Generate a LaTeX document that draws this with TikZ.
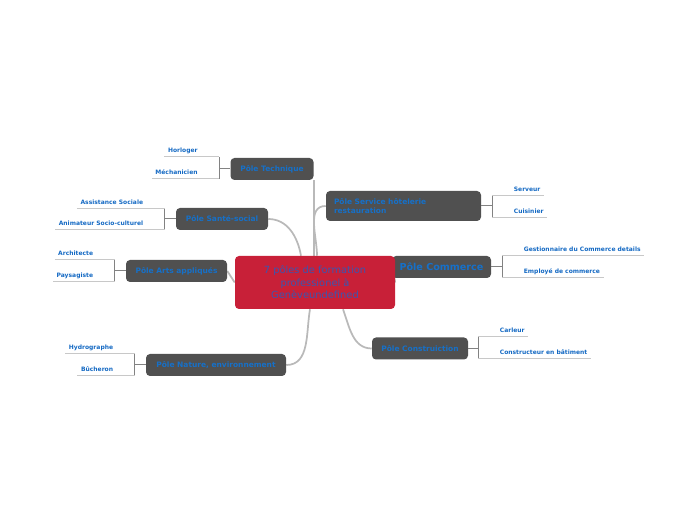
\documentclass[tikz,border=0pt]{standalone}
\usepackage{fontspec}
\setmainfont{DejaVu Sans}
\usepackage{tikz}
\usetikzlibrary{calc,backgrounds}

\definecolor{polegray}{RGB}{80,80,80}
\definecolor{poleblue}{RGB}{22,112,200}
\definecolor{leafblue}{RGB}{20,105,195}
\definecolor{centrered}{RGB}{200,32,56}
\definecolor{centreblue}{RGB}{58,86,176}
\definecolor{linkgray}{RGB}{185,185,185}
\definecolor{forkgray}{RGB}{130,130,130}
\definecolor{twiggray}{RGB}{200,200,200}

\begin{document}
\begin{tikzpicture}[x=0.75pt,y=-0.75pt,
  pole/.style={fill=polegray,rounded corners=3pt,text=poleblue,font=\fontsize{5.6}{6.75}\selectfont\bfseries,minimum width=#1*0.75pt,minimum height=16.5pt,inner sep=0pt},
  centre/.style={fill=centrered,rounded corners=3pt,text=centreblue,font=\fontsize{7.4}{9.4}\selectfont,align=center,minimum width=120pt,minimum height=39.75pt,inner sep=0pt},
  leaf/.style={text=leafblue,font=\fontsize{4.5}{5}\selectfont\bfseries,text height=3.4pt,text depth=1pt,inner xsep=2.5pt,inner ysep=2.3pt},
  link/.style={draw=linkgray,line width=1.3pt},
  fork/.style={draw=forkgray,line width=0.75pt},
  twig/.style={draw=twiggray,line width=0.75pt}]
\useasboundingbox (0,0) rectangle (697,520);

% poles
\node[pole=83] (tech) at (272,169) {Pôle Technique};
\node[pole=92] (sante) at (222,219) {Pôle Santé-social};
\node[pole=101] (arts) at (176.5,271) {Pôle Arts appliqués};
\node[pole=140] (nature) at (216,365) {Pôle Nature, environnement};
\node[pole=96] (constr) at (420,348.5) {Pôle Construiction};
\node[pole=99,font=\fontsize{7.2}{8}\selectfont\bfseries] (comm) at (441.5,267) {Pôle Commerce};
\node[pole=155,minimum height=22.5pt,text width=139*0.75pt,align=left] (serv) at (403.5,206) {Pôle Service hôtelerie\\restauration};
\node[centre] (centre) at (315,282.5) {7 pôles de formation\\professionel à\\Genèveundefined};

% links to the centre
\begin{scope}[on background layer]
\draw[link] (centre.north -| tech.south east) -- (tech.south east);
\draw[link] ($(centre.north)+(-14,0)$) to[out=100,in=0] (sante.east);
\draw[link] ($(centre.north)+(2,0)$) to[out=90,in=180] (serv.west);
\draw[link] (centre.west) -- (arts.east);
\draw[link] ($(centre.south)+(-5,0)$) to[out=-100,in=0] (nature.east);
\draw[link] ($(centre.south)+(28,0)$) to[out=-70,in=180] (constr.west);
\draw[link] (centre.east) -- (comm.west);
\end{scope}

% Pole Technique
\draw[fork] (tech.west) -- ++(-11,0) coordinate (tfork);
\node[leaf,anchor=south east] (horl) at ($(tfork)+(-18,-12)$) {Horloger};
\node[leaf,anchor=south east] (mech) at ($(tfork)+(-18,10)$) {Méchanicien};
\draw[fork] (horl.south -| tfork) -- (mech.south -| tfork);
\draw[twig] (horl.south west) -- (horl.south -| tfork);
\draw[twig] (mech.south west) -- (mech.south -| tfork);

% Pole Sante-social
\draw[fork] (sante.west) -- ++(-11,0) coordinate (sfork);
\node[leaf,anchor=south east] (assist) at ($(sfork)+(-18,-10)$) {Assistance Sociale};
\node[leaf,anchor=south east] (anim) at ($(sfork)+(-18,11)$) {Animateur Socio-culturel};
\draw[fork] (assist.south -| sfork) -- (anim.south -| sfork);
\draw[twig] (assist.south west) -- (assist.south -| sfork);
\draw[twig] (anim.south west) -- (anim.south -| sfork);

% Pole Arts appliques
\draw[fork] (arts.west) -- ++(-11,0) coordinate (afork);
\node[leaf,anchor=south east] (archi) at ($(afork)+(-18,-11)$) {Architecte};
\node[leaf,anchor=south east] (paysa) at ($(afork)+(-18,11)$) {Paysagiste};
\draw[fork] (archi.south -| afork) -- (paysa.south -| afork);
\draw[twig] (archi.south west) -- (archi.south -| afork);
\draw[twig] (paysa.south west) -- (paysa.south -| afork);

% Pole Nature
\draw[fork] (nature.west) -- ++(-11,0) coordinate (nfork);
\node[leaf,anchor=south east] (hydro) at ($(nfork)+(-18,-11)$) {Hydrographe};
\node[leaf,anchor=south east] (buch) at ($(nfork)+(-18,11)$) {Bûcheron};
\draw[fork] (hydro.south -| nfork) -- (buch.south -| nfork);
\draw[twig] (hydro.south west) -- (hydro.south -| nfork);
\draw[twig] (buch.south west) -- (buch.south -| nfork);

% Pole Service
\draw[fork] (serv.east) -- ++(11,0) coordinate (vfork);
\node[leaf,anchor=south west] (serveur) at ($(vfork)+(18,-10)$) {Serveur};
\node[leaf,anchor=south west] (cuis) at ($(vfork)+(18,12)$) {Cuisinier};
\draw[fork] (serveur.south -| vfork) -- (cuis.south -| vfork);
\draw[twig] (serveur.south -| vfork) -- (serveur.south east);
\draw[twig] (cuis.south -| vfork) -- (cuis.south east);

% Pole Commerce
\draw[fork] (comm.east) -- ++(11,0) coordinate (cfork);
\node[leaf,anchor=south west] (gest) at ($(cfork)+(18,-11)$) {Gestionnaire du Commerce details};
\node[leaf,anchor=south west] (empl) at ($(cfork)+(18,11)$) {Employé de commerce};
\draw[fork] (gest.south -| cfork) -- (empl.south -| cfork);
\draw[twig] (gest.south -| cfork) -- (gest.south east);
\draw[twig] (empl.south -| cfork) -- (empl.south east);

% Pole Construction
\draw[fork] (constr.east) -- ++(10,0) coordinate (kfork);
\node[leaf,anchor=south west] (carl) at ($(kfork)+(18,-11.5)$) {Carleur};
\node[leaf,anchor=south west] (batim) at ($(kfork)+(18,10.5)$) {Constructeur en bâtiment};
\draw[fork] (carl.south -| kfork) -- (batim.south -| kfork);
\draw[twig] (carl.south -| kfork) -- (carl.south east);
\draw[twig] (batim.south -| kfork) -- (batim.south east);
\end{tikzpicture}
\end{document}
